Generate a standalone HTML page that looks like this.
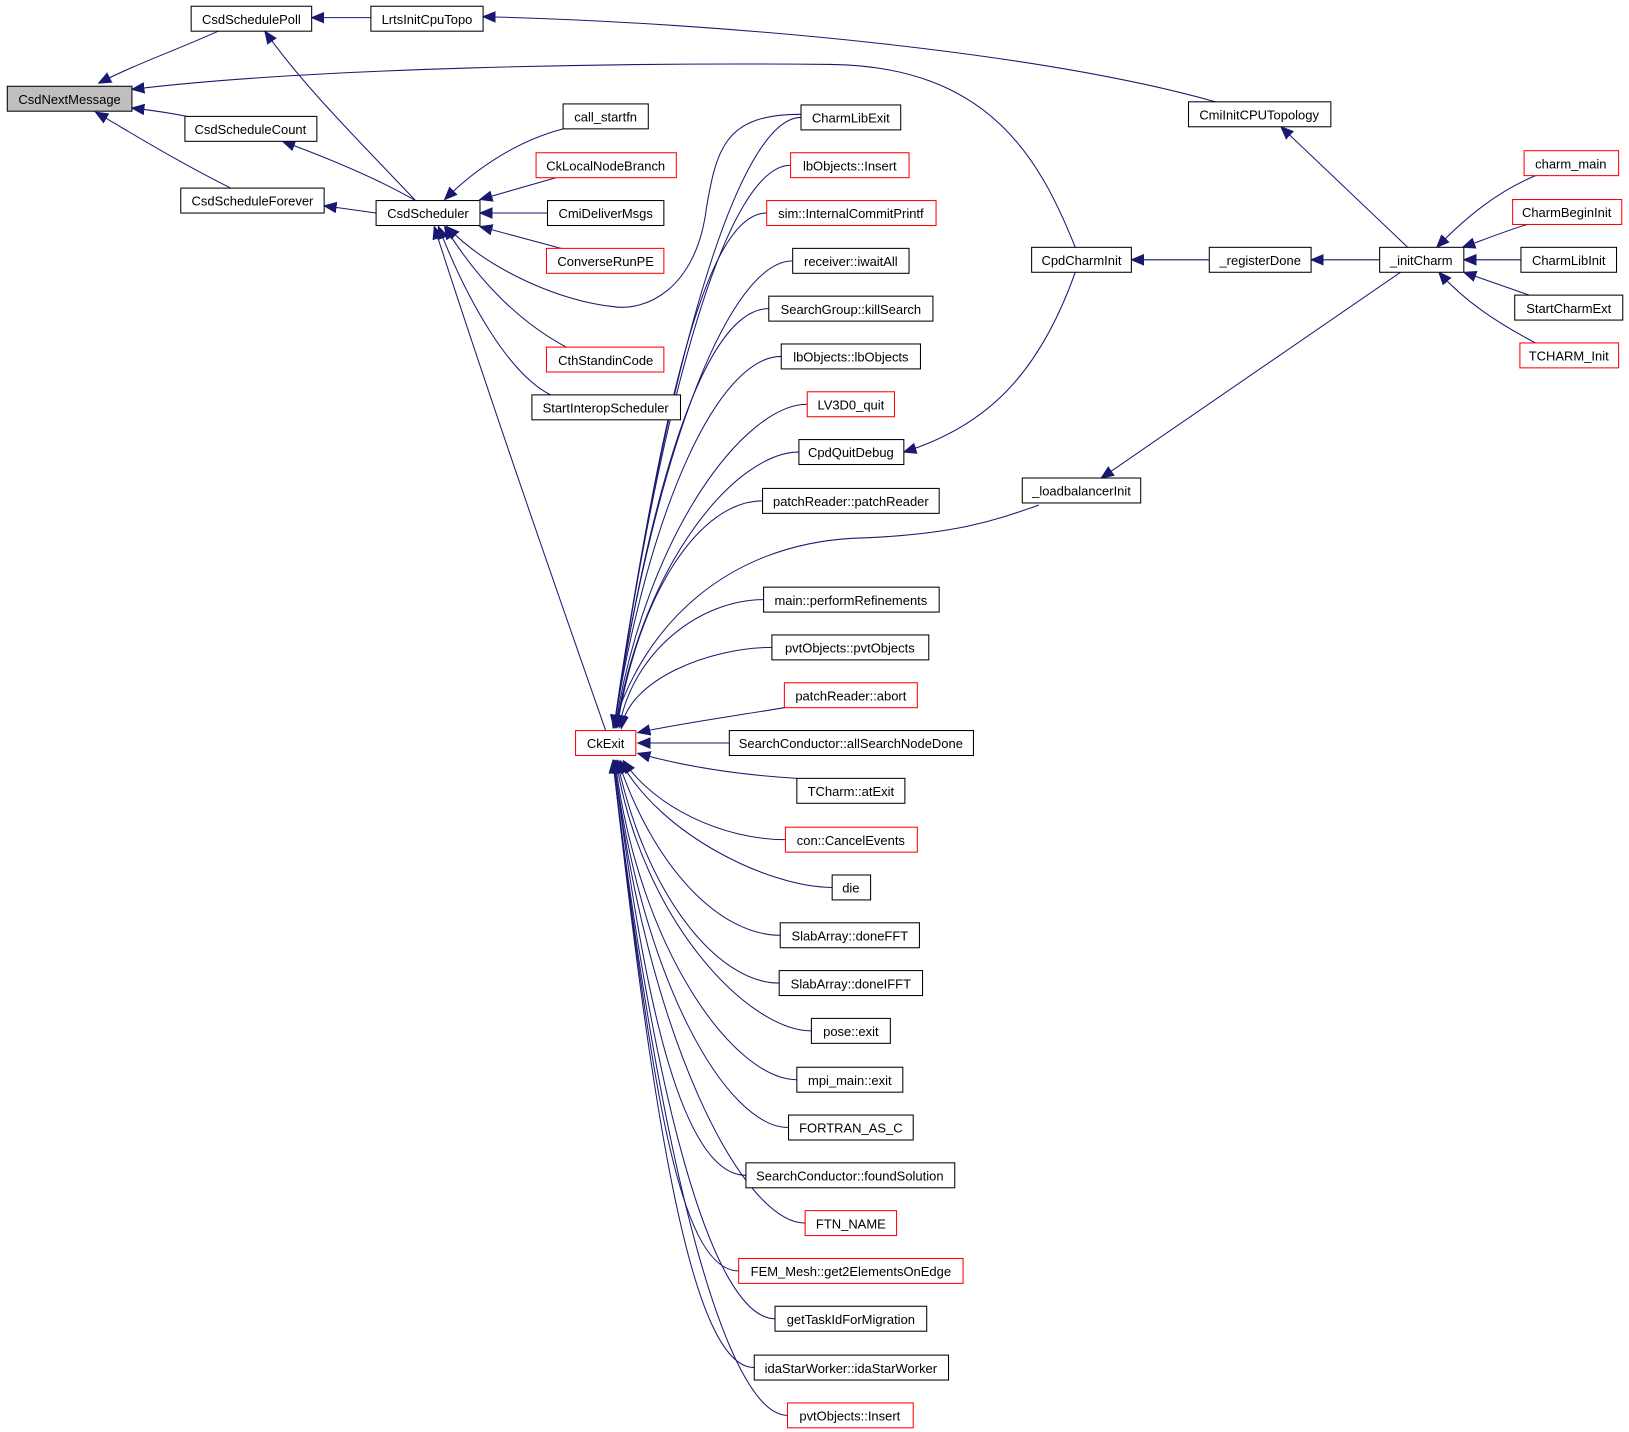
<!DOCTYPE html>
<html><head><meta charset="utf-8"><style>
html,body{margin:0;padding:0;background:#fff;}
svg{display:block;}
text{font-family:"Liberation Sans",sans-serif;font-size:12.5px;fill:#000;}
.e{fill:none;stroke:#191970;stroke-width:1;}
.n{fill:#fff;stroke:#000;stroke-width:1;}
.r{fill:#fff;stroke:#ff0000;stroke-width:1;}
</style></head><body>
<svg width="1629" height="1432" viewBox="0 0 1568 1378" preserveAspectRatio="none" xmlns="http://www.w3.org/2000/svg">
<defs><marker id="a" markerUnits="userSpaceOnUse" markerWidth="14" markerHeight="12" refX="12" refY="6" orient="auto"><path d="M0,1 L12,6 L0,11 z" fill="#191970" stroke="#191970"/></marker></defs>
<g class="e" marker-end="url(#a)">
<!-- CkExit upper callers -->
<path d="M771,113 C711,113 641,348 591,700"/>
<path d="M761,159 C701,159 638,375 591,700"/>
<path d="M738,205 C678,205 635,403 591,700"/>
<path d="M763,251 C703,251 631,431 591,700"/>
<path d="M740,297 C680,297 628,458 591,700"/>
<path d="M752,343 C692,343 625,486 591,700"/>
<path d="M777,389 C717,389 622,513 592,700"/>
<path d="M769,435 C709,435 619,541 593,700"/>
<path d="M734,482 C674,482 615,569 594,700"/>
<path d="M735,577 C675,577 609,626 596,700"/>
<path d="M743,623 C683,623 605,654 598,701"/>
<path d="M755,681 C700,690 650,697 614,705"/>
<path d="M702,715 L614,715"/>
<path d="M767,749 C700,745 650,735 614,725"/>
<!-- lower -->
<path d="M756,808 C696,808 630,777 600,732"/>
<path d="M801,854 C741,854 636,804 597,732"/>
<path d="M751,900 C691,900 628,832 595,732"/>
<path d="M750,946 C690,946 621,860 594,732"/>
<path d="M781,992 C721,992 618,887 593,732"/>
<path d="M767,1039 C707,1039 615,915 592,732"/>
<path d="M759,1085 C699,1085 618,943 591,732"/>
<path d="M718,1131 C658,1131 620,971 591,732"/>
<path d="M775,1177 C715,1177 622,998 591,732"/>
<path d="M711,1223 C651,1223 625,1027 590,732"/>
<path d="M746,1269 C686,1269 627,1053 590,732"/>
<path d="M726,1316 C666,1316 629,1082 590,732"/>
<path d="M758,1362 C698,1362 632,1109 590,732"/>
<path d="M1000,486 C960,500 920,515 820,518 C700,525 620,600 590,700"/>
<!-- CsdScheduler callers -->
<path d="M542,124 C500,135 460,160 428,192"/>
<path d="M535,171 L462,192"/>
<path d="M527,205 L462,205"/>
<path d="M540,239 L462,218"/>
<path d="M545,334 C500,310 460,270 428,218"/>
<path d="M530,380 C490,360 450,290 422,218"/>
<path d="M771,110 C700,110 690,140 680,200 C670,280 620,300 590,295 C540,290 470,260 430,218"/>
<path d="M583,703 C540,580 470,380 418,218"/>
<!-- upper left -->
<path d="M362,205 L312,198"/>
<path d="M400,193 C360,170 310,150 272,136"/>
<path d="M400,193 C340,130 290,80 255,30"/>
<path d="M210,30 C170,48 130,62 95,80"/>
<path d="M180,112 C160,108 145,106 127,104"/>
<path d="M222,181 C170,155 130,130 92,108"/>
<path d="M357,17 L300,17"/>
<path d="M1170,98 C1000,50 700,22 465,16"/>
<path d="M1035,238 C1000,150 950,64 800,62 C600,60 300,65 127,86"/>
<path d="M1035,262 C1000,360 950,410 870,435"/>
<path d="M1164,250 L1089,250"/>
<path d="M1328,250 L1262,250"/>
<path d="M1355,238 L1233,122"/>
<path d="M1348,262 L1060,460"/>
<path d="M1478,169 C1440,185 1410,210 1383,238"/>
<path d="M1470,216 C1450,222 1430,230 1408,238"/>
<path d="M1464,250 L1409,250"/>
<path d="M1472,284 L1409,262"/>
<path d="M1478,330 C1440,310 1410,290 1385,262"/>
</g>
<g text-anchor="middle">
<rect x="7" y="83" width="120" height="24" fill="#bfbfbf" stroke="#000"/><text x="67" y="100">CsdNextMessage</text>
<rect class="n" x="184" y="6" width="116" height="24"/><text x="242" y="23">CsdSchedulePoll</text>
<rect class="n" x="357" y="6" width="108" height="24"/><text x="411" y="23">LrtsInitCpuTopo</text>
<rect class="n" x="178" y="112" width="127" height="24"/><text x="241" y="129">CsdScheduleCount</text>
<rect class="n" x="174" y="181" width="138" height="24"/><text x="243" y="198">CsdScheduleForever</text>
<rect class="n" x="362" y="193" width="100" height="24"/><text x="412" y="210">CsdScheduler</text>
<rect class="n" x="542" y="100" width="82" height="24"/><text x="583" y="117">call_startfn</text>
<rect class="r" x="516" y="147" width="135" height="24"/><text x="583" y="164">CkLocalNodeBranch</text>
<rect class="n" x="527" y="193" width="112" height="24"/><text x="583" y="210">CmiDeliverMsgs</text>
<rect class="r" x="526" y="239" width="113" height="24"/><text x="583" y="256">ConverseRunPE</text>
<rect class="r" x="526" y="334" width="113" height="24"/><text x="583" y="351">CthStandinCode</text>
<rect class="n" x="512" y="380" width="143" height="24"/><text x="583" y="397">StartInteropScheduler</text>
<rect class="n" x="771" y="101" width="96" height="24"/><text x="819" y="118">CharmLibExit</text>
<rect class="r" x="761" y="147" width="114" height="24"/><text x="818" y="164">lbObjects::Insert</text>
<rect class="r" x="738" y="193" width="163" height="24"/><text x="819" y="210">sim::InternalCommitPrintf</text>
<rect class="n" x="763" y="239" width="112" height="24"/><text x="819" y="256">receiver::iwaitAll</text>
<rect class="n" x="740" y="285" width="158" height="24"/><text x="819" y="302">SearchGroup::killSearch</text>
<rect class="n" x="752" y="331" width="134" height="24"/><text x="819" y="348">lbObjects::lbObjects</text>
<rect class="r" x="777" y="377" width="84" height="24"/><text x="819" y="394">LV3D0_quit</text>
<rect class="n" x="769" y="423" width="101" height="24"/><text x="819" y="440">CpdQuitDebug</text>
<rect class="n" x="734" y="470" width="170" height="24"/><text x="819" y="487">patchReader::patchReader</text>
<rect class="n" x="735" y="565" width="169" height="24"/><text x="819" y="582">main::performRefinements</text>
<rect class="n" x="743" y="611" width="151" height="24"/><text x="818" y="628">pvtObjects::pvtObjects</text>
<rect class="r" x="755" y="657" width="128" height="24"/><text x="819" y="674">patchReader::abort</text>
<rect class="r" x="554" y="703" width="58" height="24"/><text x="583" y="720">CkExit</text>
<rect class="n" x="702" y="703" width="235" height="24"/><text x="819" y="720">SearchConductor::allSearchNodeDone</text>
<rect class="n" x="767" y="749" width="104" height="24"/><text x="819" y="766">TCharm::atExit</text>
<rect class="r" x="756" y="796" width="127" height="24"/><text x="819" y="813">con::CancelEvents</text>
<rect class="n" x="801" y="842" width="37" height="24"/><text x="819" y="859">die</text>
<rect class="n" x="751" y="888" width="134" height="24"/><text x="818" y="905">SlabArray::doneFFT</text>
<rect class="n" x="750" y="934" width="138" height="24"/><text x="819" y="951">SlabArray::doneIFFT</text>
<rect class="n" x="781" y="980" width="76" height="24"/><text x="819" y="997">pose::exit</text>
<rect class="n" x="767" y="1027" width="102" height="24"/><text x="818" y="1044">mpi_main::exit</text>
<rect class="n" x="759" y="1073" width="120" height="24"/><text x="819" y="1090">FORTRAN_AS_C</text>
<rect class="n" x="718" y="1119" width="201" height="24"/><text x="818" y="1136">SearchConductor::foundSolution</text>
<rect class="r" x="775" y="1165" width="88" height="24"/><text x="819" y="1182">FTN_NAME</text>
<rect class="r" x="711" y="1211" width="216" height="24"/><text x="819" y="1228">FEM_Mesh::get2ElementsOnEdge</text>
<rect class="n" x="746" y="1257" width="146" height="24"/><text x="819" y="1274">getTaskIdForMigration</text>
<rect class="n" x="726" y="1304" width="187" height="24"/><text x="819" y="1321">idaStarWorker::idaStarWorker</text>
<rect class="r" x="758" y="1350" width="121" height="24"/><text x="818" y="1367">pvtObjects::Insert</text>
<rect class="n" x="1144" y="98" width="137" height="24"/><text x="1212" y="115">CmiInitCPUTopology</text>
<rect class="n" x="993" y="238" width="96" height="24"/><text x="1041" y="255">CpdCharmInit</text>
<rect class="n" x="1164" y="238" width="98" height="24"/><text x="1213" y="255">_registerDone</text>
<rect class="n" x="1328" y="238" width="81" height="24"/><text x="1368" y="255">_initCharm</text>
<rect class="n" x="984" y="460" width="114" height="24"/><text x="1041" y="477">_loadbalancerInit</text>
<rect class="r" x="1467" y="145" width="91" height="24"/><text x="1512" y="162">charm_main</text>
<rect class="r" x="1456" y="192" width="105" height="24"/><text x="1508" y="209">CharmBeginInit</text>
<rect class="n" x="1464" y="238" width="92" height="24"/><text x="1510" y="255">CharmLibInit</text>
<rect class="n" x="1458" y="284" width="104" height="24"/><text x="1510" y="301">StartCharmExt</text>
<rect class="r" x="1463" y="330" width="95" height="24"/><text x="1510" y="347">TCHARM_Init</text>
</g>
</svg>
</body></html>
